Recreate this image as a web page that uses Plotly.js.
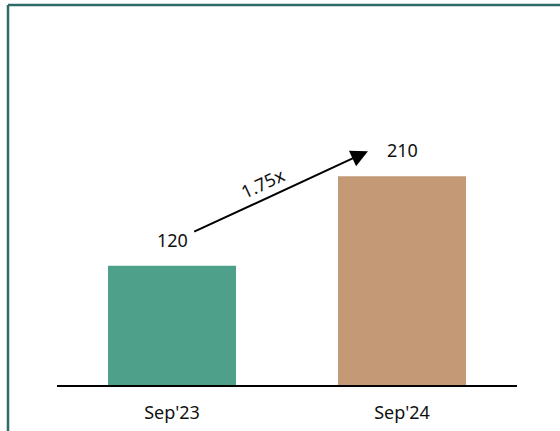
<!DOCTYPE html>
<html>
<head>
<meta charset="utf-8">
<script src="https://cdn.plot.ly/plotly-3.0.1.min.js"></script>
<style>
  html, body { margin: 0; padding: 0; background: #ffffff; }
  #chart { width: 560px; height: 431px; }
</style>
</head>
<body>
<div id="chart"></div>
<script>
// ---- data ----
const categories = ["Sep'23", "Sep'24"];
const values = [120, 210];
const barColors = ['#4ea08b', '#c39a75'];

// ---- derived ----
const ratioText = (values[1] / values[0]).toFixed(2) + 'x';
const FONT = 'Noto Sans, Open Sans, sans-serif';

const trace = {
  type: 'bar',
  x: [0, 1],
  y: values,
  marker: { color: barColors, line: { width: 0 } },
  hoverinfo: 'none'
};

const valueLabels = values.map((v, i) => ({
  x: i, y: v, xref: 'x', yref: 'y',
  text: String(v), showarrow: false,
  yanchor: 'bottom', yshift: 12,
  font: { family: FONT, size: 18, color: '#111111' }
}));

const arrow = {
  x: 1 - 0.148, y: values[1] + 25,
  ax: 0 + 0.09, ay: values[0] + 33.5,
  xref: 'x', yref: 'y', axref: 'x', ayref: 'y',
  text: '', showarrow: true,
  arrowhead: 2, arrowsize: 1.7, arrowwidth: 2, arrowcolor: '#000000',
  standoff: 0, startstandoff: 0
};

const ratioLabel = {
  x: 0.396, y: (values[0] + values[1]) / 2 + 38,
  xref: 'x', yref: 'y',
  text: ratioText, showarrow: false, textangle: -25,
  font: { family: FONT, size: 18, color: '#111111' }
};

const frameColor = '#2d6b67';
const layout = {
  width: 560, height: 431,
  margin: { l: 57, r: 43, t: 35, b: 46 },
  paper_bgcolor: '#ffffff', plot_bgcolor: '#ffffff',
  showlegend: false,
  bargap: 0.4435,
  xaxis: {
    range: [-0.5, 1.5],
    tickvals: [0, 1], ticktext: categories,
    showgrid: false, zeroline: false,
    showline: true, linecolor: '#000000', linewidth: 2,
    ticks: '', ticklabelstandoff: 10,
    tickfont: { family: FONT, size: 18, color: '#111111' },
    fixedrange: true
  },
  yaxis: {
    range: [0, 352],
    visible: false, showgrid: false, zeroline: false, fixedrange: true
  },
  annotations: valueLabels.concat([arrow, ratioLabel]),
  shapes: [
    { type: 'line', xref: 'paper', yref: 'paper',
      x0: -0.1065, x1: -0.1065, y0: 1.0857, y1: -0.2,
      line: { color: frameColor, width: 2.5 } },
    { type: 'line', xref: 'paper', yref: 'paper',
      x0: -0.1065, x1: 1.2, y0: 1.0857, y1: 1.0857,
      line: { color: frameColor, width: 2.5 } }
  ]
};

Plotly.newPlot('chart', [trace], layout, { staticPlot: true, displayModeBar: false });
</script>
</body>
</html>
